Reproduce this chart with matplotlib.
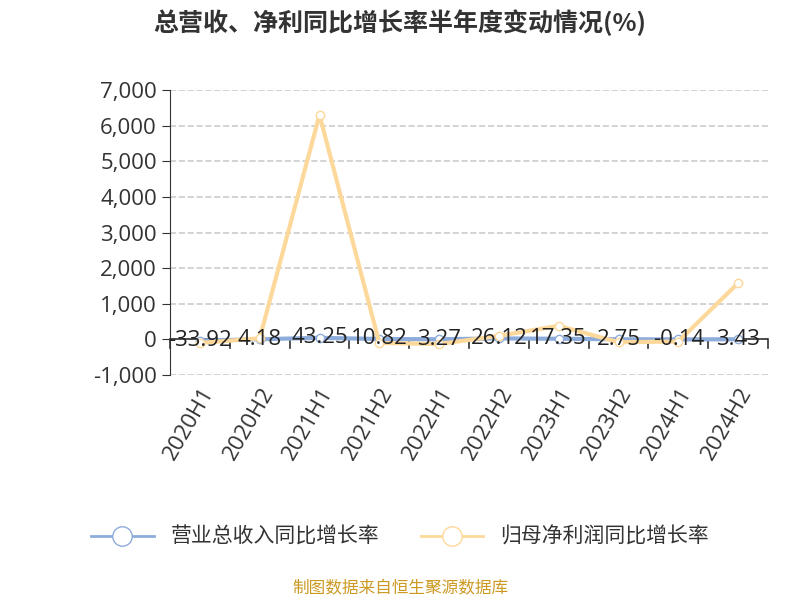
import matplotlib
matplotlib.use("Agg")
import matplotlib.pyplot as plt

plt.rcParams['font.family'] = ['Noto Sans CJK SC', 'DejaVu Sans']

categories = ["2020H1","2020H2","2021H1","2021H2","2022H1","2022H2","2023H1","2023H2","2024H1","2024H2"]
revenue = [-33.92, 4.18, 43.25, 10.82, 3.27, 26.12, 17.35, 2.75, -0.14, 3.43]
profit = [-100, 30, 6300, -100, -130, 100, 380, -80, -60, 1580]

fig = plt.figure(figsize=(8, 6), dpi=100)
ax = fig.add_axes([0.2125, 0.375, 0.7475, 0.475])
x = list(range(len(categories)))
ax.plot(x, revenue, color='#8eacdb', lw=3, marker='o', ms=6, mfc='white', mec='#8eacdb', zorder=3)
ax.plot(x, profit, color='#fdd89b', lw=3, marker='o', ms=6, mfc='white', mec='#fdd89b', zorder=3)
for i, v in enumerate(revenue):
    ax.text(i, v, f"{v:g}", ha='center', va='center', fontsize=16, color='#222222', zorder=4,
            family=['Open Sans', 'DejaVu Sans'])

ax.set_xlim(-0.5, len(categories) - 0.5)
ax.set_ylim(-1000, 7000)
ax.set_yticks(range(-1000, 7001, 1000))
ax.set_yticklabels([f"{t:,}" for t in range(-1000, 7001, 1000)], fontsize=16, color='#333333',
                   family=['Open Sans', 'DejaVu Sans'])
ax.set_xticks(x)
ax.set_xticklabels(categories, rotation=60, ha='right', rotation_mode='anchor', fontsize=16, color='#333333',
                   family=['Open Sans', 'DejaVu Sans'])
ax.tick_params(axis='x', which='major', length=0, pad=6)
ax.tick_params(axis='y', length=6, color='#333333')
ax.grid(axis='y', ls='--', color='#cccccc', lw=1.2)
for s in ['top', 'right', 'bottom']:
    ax.spines[s].set_visible(False)
ax.spines['left'].set_color('#333333')
ax.axhline(0, color='#333333', lw=1.2, zorder=2)
for b in [i - 0.5 for i in range(len(categories) + 1)]:
    ax.plot([b, b], [0, -230], color='#333333', lw=1.2, zorder=2, clip_on=False)

fig.text(0.5, 0.962, "总营收、净利同比增长率半年度变动情况(%)", ha='center', va='center', fontsize=18, fontweight='bold', color='#333333')

from matplotlib.lines import Line2D
h = [Line2D([], [], color='#8eacdb', lw=2, marker='o', ms=14, mfc='white', mec='#8eacdb'),
     Line2D([], [], color='#fdd89b', lw=2, marker='o', ms=14, mfc='white', mec='#fdd89b')]
fig.legend(h, ["营业总收入同比增长率", "归母净利润同比增长率"], loc='center', bbox_to_anchor=(0.5, 0.105),
           ncol=2, frameon=False, fontsize=15, handlelength=3, columnspacing=2, labelcolor='#333333')
fig.text(0.5, 0.018, "制图数据来自恒生聚源数据库", ha='center', va='center', fontsize=12, color='#cc9922')
fig.savefig("out.png", dpi=100)
